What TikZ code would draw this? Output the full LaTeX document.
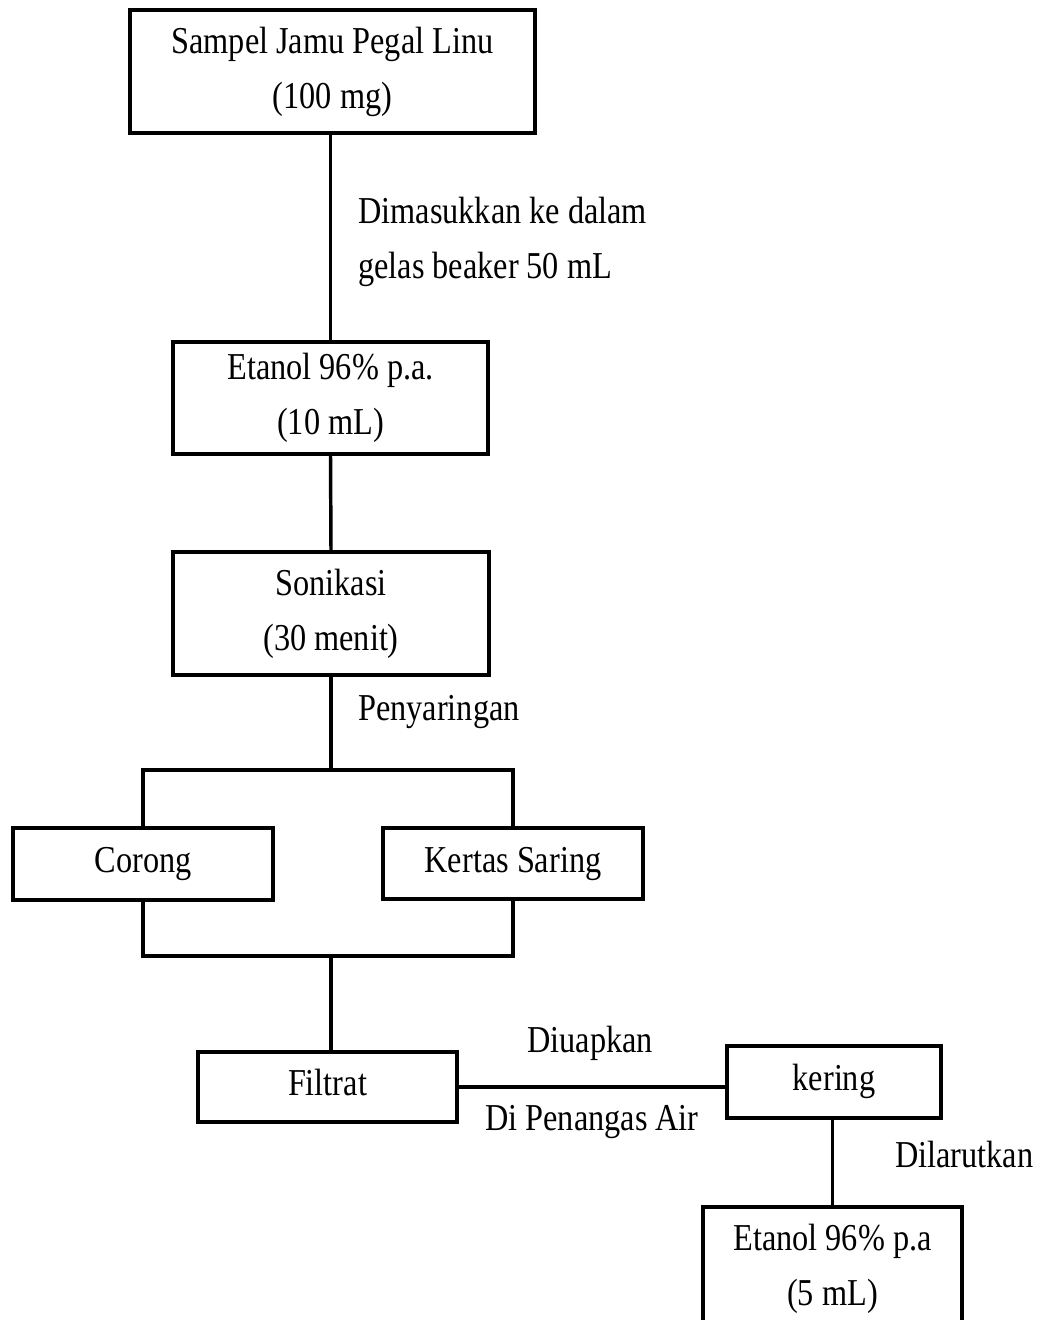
\documentclass[tikz,border=0pt]{standalone}
\usepackage{fontspec}
\setmainfont{Liberation Serif}[FakeStretch=0.85]
\begin{document}
\begin{tikzpicture}[x=0.75pt,y=-0.75pt,
  every node/.style={font=\fontsize{28.5pt}{41.25pt}\selectfont},
  box/.style={draw,line width=2.6pt,inner sep=0pt,align=center},
  onebox/.style={box,text height=19.3pt,text depth=6.2pt},
  conn/.style={line width=2.6pt},
  lbl/.style={inner sep=0pt,align=left}]
\useasboundingbox (0,0) rectangle (1042,1320);
\node[box,minimum width=405*0.75pt,minimum height=123*0.75pt] (b1) at (332.5,71.5) {Sampel Jamu Pegal Linu\\(100 mg)};
\node[box,minimum width=315*0.75pt,minimum height=112*0.75pt] (b2) at (330.5,398) {Etanol 96\% p.a.\\(10 mL)};
\node[box,minimum width=316*0.75pt,minimum height=123*0.75pt] (b3) at (331,613.5) {Sonikasi\\(30 menit)};
\node[onebox,minimum width=260*0.75pt,minimum height=72*0.75pt] (corong) at (143,864) {Corong};
\node[onebox,minimum width=260*0.75pt,minimum height=71*0.75pt] (kertas) at (513,863.5) {Kertas Saring};
\node[onebox,minimum width=259*0.75pt,minimum height=70*0.75pt] (filtrat) at (327.5,1087) {Filtrat};
\node[onebox,minimum width=214*0.75pt,minimum height=72*0.75pt] (kering) at (834,1082) {kering};
\node[box,minimum width=259*0.75pt,minimum height=123*0.75pt] (final) at (832.5,1268.5) {Etanol 96\% p.a\\(5 mL)};
\coordinate (topsplit) at (331,770);
\coordinate (botsplit) at (331,956);
\draw[conn] (b1.south -| b2.north) -- (b2.north);
\draw[conn] (b2.south) -- (b3.north);
\draw[conn] (b3.south) -- (topsplit);
\draw[conn] (corong.north) |- (topsplit) -| (kertas.north);
\draw[conn] (corong.south) |- (botsplit) -| (kertas.south);
\draw[conn] (botsplit) -- (botsplit |- filtrat.north);
\draw[conn] (filtrat.east) -- (kering.west |- filtrat.east);
\draw[conn] (kering.south -| final.north) -- (final.north);
\node[lbl,anchor=west] (l1) at (358,241.5) {Dimasukkan ke dalam\\gelas beaker 50 mL};
\node[lbl,anchor=base west] (l2) at (358,720) {Penyaringan};
\node[lbl,anchor=base] (l3) at (590,1052) {Diuapkan};
\node[lbl,anchor=base] (l4) at (592,1130) {Di Penangas Air};
\node[lbl,anchor=base west] (l5) at (895,1167) {Dilarutkan};
\end{tikzpicture}
\end{document}
